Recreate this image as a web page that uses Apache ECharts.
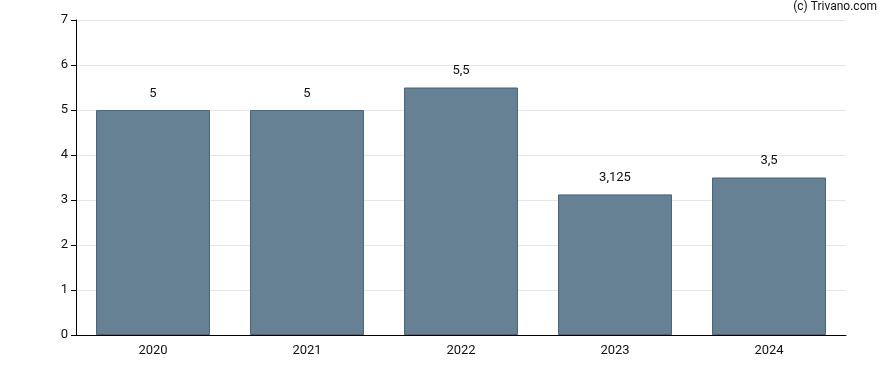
<!DOCTYPE html>
<html><head><meta charset="utf-8">
<script src="https://cdn.jsdelivr.net/npm/echarts@6/dist/echarts.min.js"></script>
<style>html,body{margin:0;padding:0;background:#fff}#c{width:888px;height:370px}</style>
</head><body><div id="c"></div>
<script>
const categories = ['2020','2021','2022','2023','2024'];
const values = [5, 5, 5.5, 3.125, 3.5];
const yTicks = [0,1,2,3,4,5,6,7];
const FONT = 'Roboto, "Liberation Sans", Arial, sans-serif';
const chart = echarts.init(document.getElementById('c'));
chart.setOption({
  animation: false,
  graphic: [{type:'text', right: 11, top: 1, style:{text:'(c) Trivano.com', font:'12px Roboto, Arial, sans-serif', fill:'#111'}}],
  grid: {left: 76, right: 42, top: 20, bottom: 35},
  xAxis: {type:'category', data: categories,
    axisLine:{lineStyle:{color:'#000', width:1}},
    axisTick:{alignWithLabel:true, length:5, lineStyle:{color:'#000'}},
    axisLabel:{color:'#111', fontSize:13, fontFamily:FONT, margin:9}},
  yAxis: {type:'value', min:0, max:7, interval:1,
    axisLine:{show:true, lineStyle:{color:'#000', width:1}},
    axisTick:{show:true, length:5, lineStyle:{color:'#000'}},
    axisLabel:{color:'#111', fontSize:13, fontFamily:FONT, margin:8,
      formatter: v => yTicks.includes(v) ? String(v) : ''},
    splitLine:{lineStyle:{color:'#e6e6e6', width:1}}},
  series: [{type:'bar', data: values, barWidth:'74%',
    itemStyle:{color:'#668193', borderColor:'#4b6478', borderWidth:1},
    label:{show:true, position:'top', distance:10, color:'#111', fontSize:13,
      fontFamily:FONT,
      formatter: p => String(p.value).replace('.', ',')}}]
});
</script></body></html>
